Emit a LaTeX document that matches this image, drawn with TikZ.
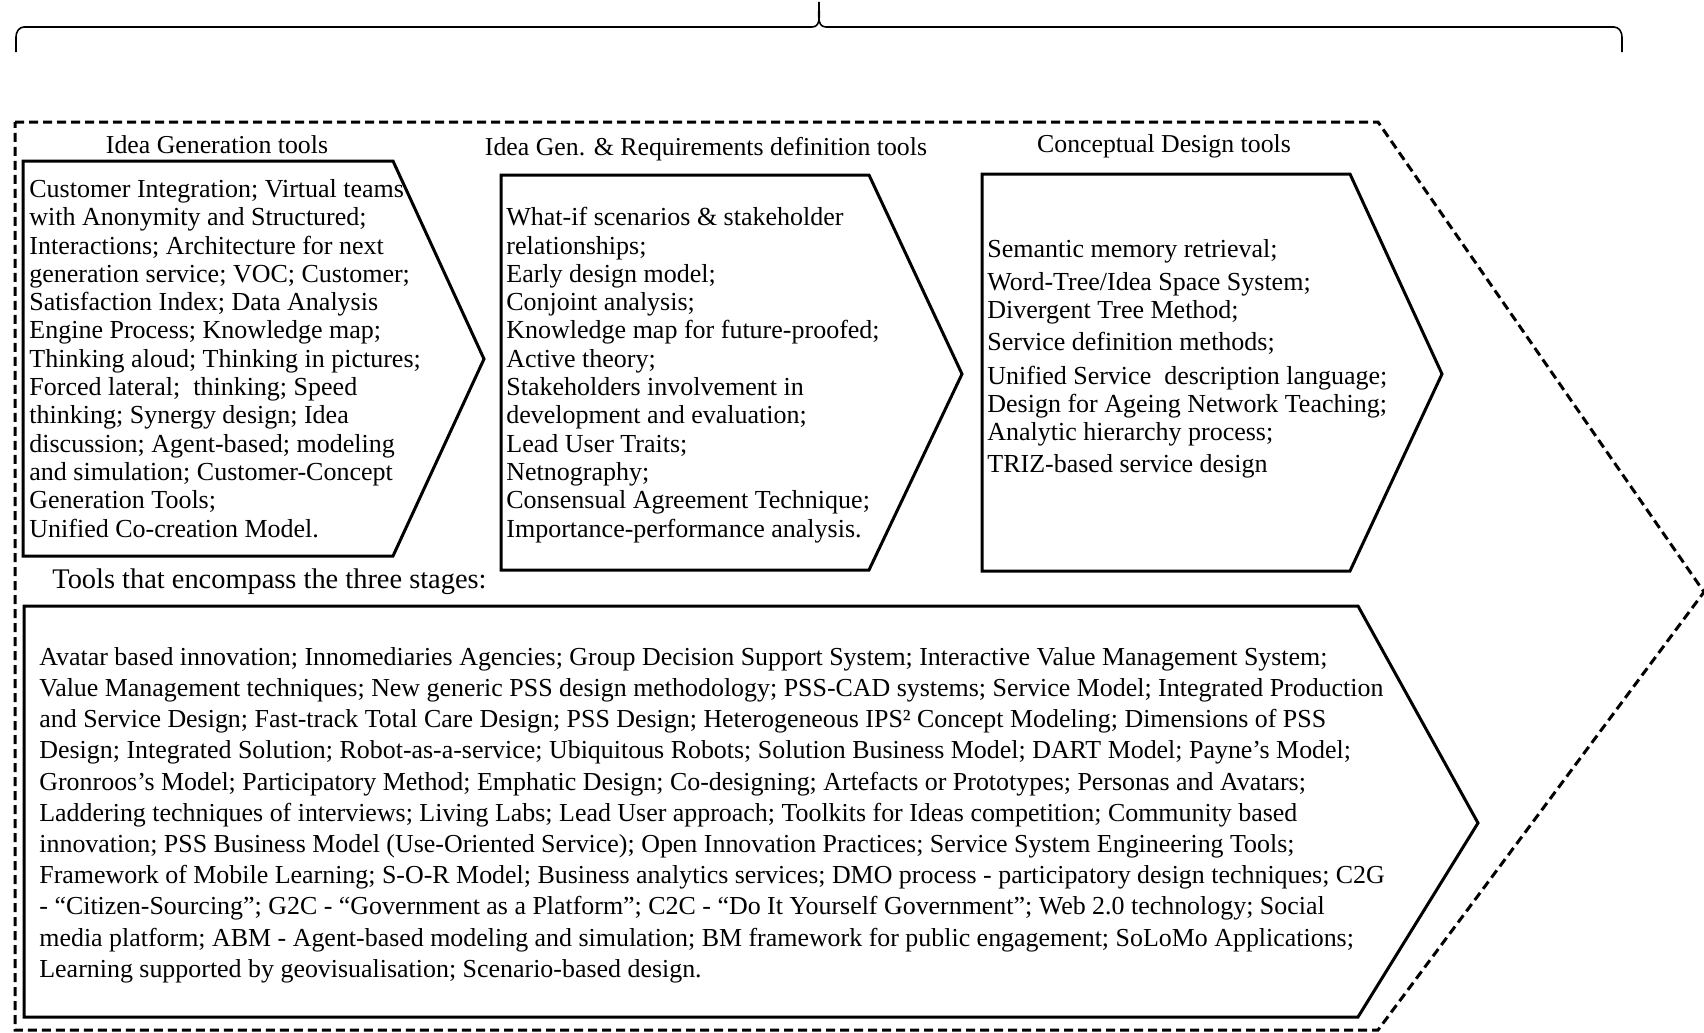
\documentclass[tikz,border=0pt]{standalone}
\usepackage{fontspec}
\setmainfont{Liberation Serif}
\begin{document}
\begin{tikzpicture}[x=0.5pt,y=-0.5pt,
  stage/.style={line width=1.5pt,line join=miter},
  outline/.style={line width=1.5pt,dash pattern=on 4.5pt off 2.5pt,line join=miter},
  title/.style={font=\fontsize{12.9}{14}\selectfont,inner sep=0pt},
  list/.style={font=\fontsize{13}{14.15}\selectfont,align=left,anchor=north west,inner sep=0pt}]
  \useasboundingbox (0,0) rectangle (1704,1033);
  % brace over the whole process
  \draw[line width=0.8pt] (16,52) -- (16,37) to[out=90,in=180] (24,27) -- (812,27)
        to[out=0,in=-92] (819,2) to[out=-88,in=180] (826,27) -- (1614,27)
        to[out=0,in=90] (1622,37) -- (1622,52);
  % dashed frame
  \draw[outline] (15,122) -- (1378,122) -- (1704,592) -- (1378,1030) -- (15,1030) -- cycle;
  % the three stages
  \draw[stage] (23,161) -- (393,161) -- (484,359) -- (393,556) -- (23,556) -- cycle;
  \draw[stage] (501,175) -- (869,175) -- (962,374) -- (869,570) -- (501,570) -- cycle;
  \draw[stage] (982,174) -- (1350,174) -- (1442,374) -- (1350,571) -- (982,571) -- cycle;
  \draw[stage] (24,606) -- (1358,606) -- (1478,823) -- (1358,1017) -- (24,1017) -- cycle;

  \node[title] (t1) at (217,145) {Idea Generation tools};
  \node[title] (t2) at (706,149) {Idea Gen. \& Requirements definition tools};
  \node[title] (t3) at (1164,146) {Conceptual Design tools};
  \node[title,anchor=west,font=\fontsize{14.2}{16}\selectfont] (t4) at (52,582) {Tools that encompass the three stages:};

  \node[list] (ideagen) at (29,179) {Customer Integration; Virtual teams\\
    with Anonymity and Structured;\\
    Interactions; Architecture for next\\
    generation service; VOC; Customer;\\
    Satisfaction Index; Data Analysis\\
    Engine Process; Knowledge map;\\
    Thinking aloud; Thinking in pictures;\\
    Forced lateral;\ \ thinking; Speed\\
    thinking; Synergy design; Idea\\
    discussion; Agent-based; modeling\\
    and simulation; Customer-Concept\\
    Generation Tools;\\
    Unified Co-creation Model.};
  \node[list] (ideareq) at (506,207) {What-if scenarios \& stakeholder\\
    relationships;\\
    Early design model;\\
    Conjoint analysis;\\
    Knowledge map for future-proofed;\\
    Active theory;\\
    Stakeholders involvement in\\
    development and evaluation;\\
    Lead User Traits;\\
    Netnography;\\
    Consensual Agreement Technique;\\
    Importance-performance analysis.};
  \node[list] (concept) at (987,239) {Semantic memory retrieval;\\[2.15pt]
    Word-Tree/Idea Space System;\\
    Divergent Tree Method;\\[2.15pt]
    Service definition methods;\\[2.7pt]
    Unified Service\ \ description language;\\
    Design for Ageing Network Teaching;\\[-0.55pt]
    Analytic hierarchy process;\\[2.15pt]
    TRIZ-based service design};
  \node[list,font=\fontsize{12.96}{15.6}\selectfont] (allstages) at (39,647) {Avatar based innovation; Innomediaries Agencies;\ Group Decision Support System; Interactive Value Management System;\\
    Value Management techniques; New generic PSS design methodology; PSS-CAD systems; Service Model; Integrated Production\\
    and Service Design;\ Fast-track Total Care Design; PSS Design;\ Heterogeneous IPS² Concept Modeling; Dimensions of PSS\\
    Design;\ Integrated Solution; Robot-as-a-service; Ubiquitous Robots; Solution Business Model; DART Model; Payne’s Model;\\
    Gronroos’s Model; Participatory Method; Emphatic Design;\ Co-designing; Artefacts or Prototypes; Personas and Avatars;\\
    Laddering techniques of interviews; Living Labs; Lead User approach; Toolkits for Ideas competition; Community based\\
    innovation; PSS Business Model (Use-Oriented Service); Open Innovation Practices; Service System Engineering Tools;\\
    Framework of Mobile Learning; S-O-R Model; Business analytics services; DMO process - participatory design techniques; C2G\\
    - “Citizen-Sourcing”;\ G2C - “Government as a Platform”; C2C - “Do It Yourself Government”; Web 2.0 technology; Social\\
    media platform; ABM\ - Agent-based modeling and simulation; BM\ framework for public engagement; SoLoMo Applications;\\
    Learning supported by geovisualisation; Scenario-based design.};
\end{tikzpicture}
\end{document}
